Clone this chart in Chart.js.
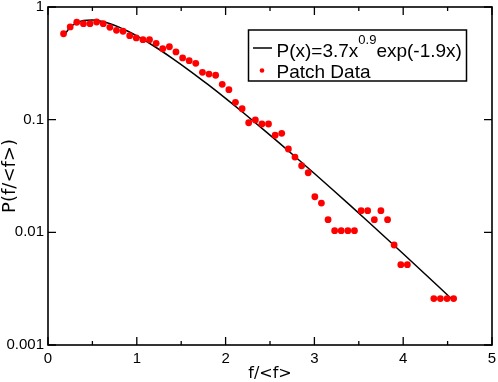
<!DOCTYPE html>
<html>
<head>
<meta charset="utf-8">
<script src="https://cdn.jsdelivr.net/npm/chart.js@4/dist/chart.umd.min.js"></script>
<style>
html,body{margin:0;padding:0;background:#fff;}
#wrap{width:498px;height:382px;}
</style>
</head>
<body>
<div id="wrap"><canvas id="c" width="498" height="382"></canvas></div>
<script>
// Patch data
const patchX = [0.175,0.250,0.324,0.399,0.473,0.548,0.622,0.697,0.771,0.845,0.920,0.994,1.069,1.143,1.218,1.292,1.367,1.441,1.516,1.590,1.664,1.739,1.813,1.888,1.962,2.037,2.111,2.186,2.260,2.335,2.409,2.483,2.558,2.632,2.707,2.781,2.856,2.930,3.005,3.079,3.154,3.228,3.302,3.377,3.451,3.526,3.600,3.675,3.749,3.824,3.898,3.973,4.047,4.345,4.419,4.494,4.568];
const patchY = [0.579,0.665,0.732,0.711,0.711,0.736,0.711,0.660,0.621,0.609,0.556,0.531,0.513,0.513,0.476,0.426,0.444,0.399,0.353,0.334,0.316,0.263,0.254,0.248,0.206,0.1845,0.1426,0.125,0.0939,0.0993,0.0915,0.0915,0.0727,0.0757,0.0549,0.0466,0.0390,0.0338,0.0207,0.0182,0.01295,0.01034,0.01034,0.01034,0.01034,0.01556,0.01556,0.01295,0.01556,0.01295,0.00772,0.00516,0.00516,0.00258,0.00258,0.00258,0.00258];
// Fit curve samples
const fitX = [0.175,0.25,0.3,0.4,0.5,0.6,0.7,0.8,0.9,1.0,1.2,1.4,1.6,1.8,2.0,2.2,2.4,2.6,2.8,3.0,3.2,3.4,3.6,3.8,4.0,4.2,4.4,4.57];
const fitY = [0.5527,0.6609,0.7081,0.7586,0.7668,0.7471,0.7099,0.6620,0.6088,0.5535,0.4460,0.3504,0.2702,0.2054,0.1545,0.1151,0.08512,0.06256,0.04573,0.03328,0.02412,0.01742,0.01254,0.009003,0.006449,0.004608,0.003286,0.002462];
// Axes
const xMajorTicks = [0,1,2,3,4,5];
const xMinorTicks = [0.5,1.5,2.5,3.5,4.5];
const yTickValues = [1,0.1,0.01,0.001];
const yTickLabels = ["1","0.1","0.01","0.001"];
const xTitle = "f/<f>";
const yTitle = "P(f/<f>)";
const legendFitMain = "P(x)=3.7x";
const legendFitSup = "0.9";
const legendFitTail = "exp(-1.9x)";
const legendData = "Patch Data";

const framePlugin = {
  id: 'frame',
  afterDatasetsDraw(chart) {
    const ctx = chart.ctx, a = chart.chartArea;
    const xs = chart.scales.x, ys = chart.scales.y;
    ctx.save();
    ctx.strokeStyle = '#000';
    ctx.lineWidth = 1.6;
    ctx.strokeRect(a.left, a.top, a.right - a.left, a.bottom - a.top);
    ctx.lineWidth = 1.3;
    ctx.beginPath();
    xMajorTicks.forEach(v => {
      const p = xs.getPixelForValue(v);
      ctx.moveTo(p, a.bottom); ctx.lineTo(p, a.bottom - 8);
      ctx.moveTo(p, a.top); ctx.lineTo(p, a.top + 8);
    });
    xMinorTicks.forEach(v => {
      const p = xs.getPixelForValue(v);
      ctx.moveTo(p, a.bottom); ctx.lineTo(p, a.bottom - 4);
      ctx.moveTo(p, a.top); ctx.lineTo(p, a.top + 4);
    });
    yTickValues.forEach(v => {
      const p = ys.getPixelForValue(v);
      ctx.moveTo(a.left, p); ctx.lineTo(a.left + 8, p);
      ctx.moveTo(a.right, p); ctx.lineTo(a.right - 8, p);
    });
    ctx.stroke();

    // legend
    const bx = 248.5, by = 30, bw = 218, bh = 51;
    ctx.fillStyle = '#fff';
    ctx.fillRect(bx, by, bw, bh);
    ctx.lineWidth = 1.5;
    ctx.strokeRect(bx, by, bw, bh);
    ctx.beginPath();
    ctx.moveTo(253, 48); ctx.lineTo(272, 48);
    ctx.stroke();
    ctx.fillStyle = '#f00';
    ctx.beginPath();
    ctx.arc(262, 70.5, 2.3, 0, Math.PI * 2);
    ctx.fill();
    ctx.fillStyle = '#000';
    ctx.textBaseline = 'alphabetic';
    ctx.textAlign = 'left';
    ctx.font = '19px "Liberation Sans", Arial, sans-serif';
    let tx = 276.5;
    ctx.fillText(legendFitMain, tx, 56.5);
    tx += ctx.measureText(legendFitMain).width;
    ctx.font = '13px "Liberation Sans", Arial, sans-serif';
    ctx.fillText(legendFitSup, tx, 43.5);
    tx += ctx.measureText(legendFitSup).width;
    ctx.font = '19px "Liberation Sans", Arial, sans-serif';
    ctx.fillText(legendFitTail, tx, 56.5);
    ctx.fillText(legendData, 276.5, 77.5);
    ctx.restore();
  }
};

new Chart(document.getElementById('c'), {
  type: 'scatter',
  data: {
    datasets: [
      {
        label: 'fit',
        data: fitX.map((x, i) => ({x: x, y: fitY[i]})),
        showLine: true,
        borderColor: '#000',
        borderWidth: 1.5,
        pointRadius: 0,
        cubicInterpolationMode: 'monotone',
        order: 2
      },
      {
        label: 'Patch Data',
        data: patchX.map((x, i) => ({x: x, y: patchY[i]})),
        showLine: false,
        pointRadius: 3.4,
        pointBackgroundColor: '#f00',
        pointBorderWidth: 0,
        borderColor: '#f00',
        order: 1
      }
    ]
  },
  options: {
    responsive: false,
    animation: false,
    devicePixelRatio: 1,
    layout: {padding: {top: 7, right: 6, left: 0, bottom: 0}},
    plugins: {legend: {display: false}, tooltip: {enabled: false}},
    scales: {
      x: {
        type: 'linear', min: 0, max: 5,
        grid: {display: false, drawTicks: false},
        border: {display: false},
        afterBuildTicks: s => { s.ticks = xMajorTicks.map(v => ({value: v})); },
        ticks: {color: '#000', padding: 5, maxRotation: 0, autoSkip: false,
          font: {family: '"Liberation Sans", Arial, sans-serif', size: 15},
          callback: v => String(v)},
        title: {display: true, text: xTitle, color: '#000',
          font: {family: '"DejaVu Sans", sans-serif', size: 16, lineHeight: 1.0},
          padding: {top: 0, bottom: 0}},
        afterFit: s => { s.height = 37; s.paddingLeft = 0; s.paddingRight = 0; }
      },
      y: {
        type: 'logarithmic', min: 0.001, max: 1,
        grid: {display: false, drawTicks: false},
        border: {display: false},
        afterBuildTicks: s => { s.ticks = yTickValues.map(v => ({value: v})); },
        ticks: {color: '#000', padding: 4, autoSkip: false,
          font: {family: '"Liberation Sans", Arial, sans-serif', size: 15},
          callback: (v) => { const k = yTickValues.findIndex(t => Math.abs(t - v) < v * 1e-6); return k >= 0 ? yTickLabels[k] : ''; }},
        title: {display: true, text: yTitle, color: '#000',
          font: {family: '"DejaVu Sans", sans-serif', size: 18, lineHeight: 1.1},
          padding: {top: 0, bottom: 0}},
        afterFit: s => { s.width = 48; s.paddingTop = 0; s.paddingBottom = 0; }
      }
    }
  },
  plugins: [framePlugin]
});
</script>
</body>
</html>
